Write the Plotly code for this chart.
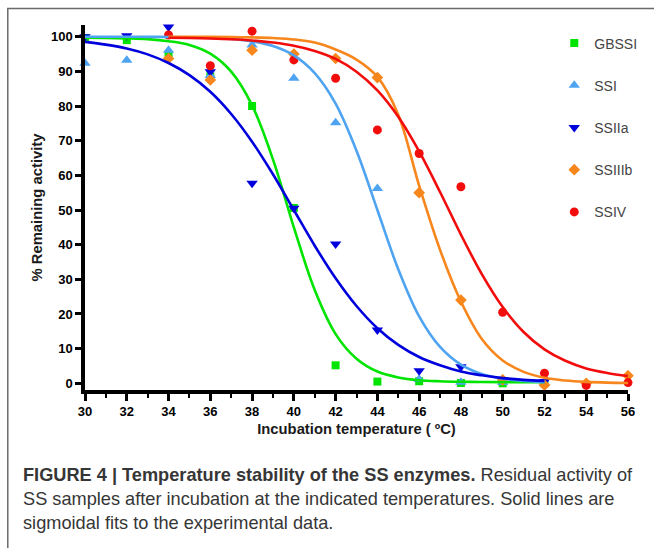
import plotly.graph_objects as go

# ---------------- data ----------------
series_names = ["GBSSI", "SSI", "SSIIa", "SSIIIb", "SSIV"]
colors = ["#00E400", "#4FA4F2", "#0000DD", "#F7861C", "#F20D0D"]
symbols = ["square", "triangle-up", "triangle-down", "diamond", "circle"]
marker_sizes = [8, 10, 10, 9, 9]

# measured points
gbssi_x = [30, 32, 34, 36, 38, 40, 42, 44, 46, 48, 50, 52]
gbssi_y = [99.6, 99.0, 94.6, 88.5, 80.0, 50.6, 5.2, 0.5, 0.6, 0.1, 0.0, 0.0]

ssi_x = [30, 32, 34, 36, 38, 40, 42, 44, 46, 48, 50, 52]
ssi_y = [92.3, 93.2, 96.1, 88.8, 97.6, 88.0, 75.2, 56.2, 1.2, 0.3, 0.2, 0.0]

ssiia_x = [30, 32, 34, 36, 38, 40, 42, 44, 46, 48, 50, 52]
ssiia_y = [100.0, 100.3, 102.8, 89.9, 57.7, 50.5, 40.2, 15.4, 3.6, 4.8, 1.1, 0.5]

ssiiib_x = [34, 36, 38, 40, 42, 44, 46, 48, 50, 52, 54, 56]
ssiiib_y = [93.7, 87.5, 96.1, 95.0, 93.7, 88.2, 55.0, 24.0, 1.0, -0.5, 0.0, 2.2]

ssiv_x = [34, 36, 38, 40, 42, 44, 46, 48, 50, 52, 54, 56]
ssiv_y = [100.5, 91.6, 101.6, 93.3, 88.0, 73.1, 66.3, 56.7, 20.5, 2.9, -0.6, 0.2]

# fitted sigmoid curves (values at each degree)
fit_x_low = [30, 31, 32, 33, 34, 35, 36, 37, 38, 39, 40, 41,
             42, 43, 44, 45, 46, 47, 48, 49, 50, 51, 52]
fit_gbssi = [99.7, 99.6, 99.5, 99.3, 98.7, 97.6, 95.1, 89.9, 80.2, 64.6, 45.0, 26.9,
             14.2, 7.1, 3.4, 1.7, 0.9, 0.6, 0.45, 0.37, 0.33, 0.31, 0.3]
fit_ssi = [100.0, 100.0, 99.98, 99.95, 99.92, 99.84, 99.67, 99.33, 98.65, 97.3, 94.6, 89.5,
           80.7, 67.1, 50.0, 32.9, 19.3, 10.5, 5.4, 2.7, 1.35, 0.67, 0.33]
fit_ssiia = [98.5, 97.7, 96.6, 94.9, 92.4, 88.9, 84.1, 77.7, 69.7, 60.3, 50.0, 39.7,
             30.3, 22.3, 15.9, 11.1, 7.6, 5.2, 3.4, 2.3, 1.5, 1.0, 0.66]

fit_x_high = [34, 35, 36, 37, 38, 39, 40, 41, 42, 43, 44, 45,
              46, 47, 48, 49, 50, 51, 52, 53, 54, 55, 56]
fit_ssiiib = [99.99, 99.97, 99.95, 99.9, 99.8, 99.6, 99.2, 98.3, 96.3, 93.4, 88.4, 77.5,
              57.0, 38.5, 23.6, 12.8, 6.6, 3.3, 1.6, 0.8, 0.4, 0.2, 0.1]
fit_ssiv = [99.68, 99.6, 99.47, 99.26, 98.9, 98.3, 97.4, 95.9, 93.6, 89.9, 84.5, 76.9,
            66.9, 55.2, 42.9, 31.5, 22.0, 14.8, 9.8, 6.5, 4.3, 3.0, 2.1]

y_ticks = [0, 10, 20, 30, 40, 50, 60, 70, 80, 90, 100]
x_ticks = [30, 32, 34, 36, 38, 40, 42, 44, 46, 48, 50, 52, 54, 56]

x_title = "Incubation temperature ( ºC)"
y_title = "% Remaining activity"
caption_lines = [
    "<b>FIGURE 4 | Temperature stability of the SS enzymes.</b> Residual activity of",
    "SS samples after incubation at the indicated temperatures. Solid lines are",
    "sigmoidal fits to the experimental data.",
]

points = [(gbssi_x, gbssi_y), (ssi_x, ssi_y), (ssiia_x, ssiia_y),
          (ssiiib_x, ssiiib_y), (ssiv_x, ssiv_y)]
fits = [(fit_x_low, fit_gbssi), (fit_x_low, fit_ssi), (fit_x_low, fit_ssiia),
        (fit_x_high, fit_ssiiib), (fit_x_high, fit_ssiv)]

# ---------------- figure ----------------
fig = go.Figure()

for i, name in enumerate(series_names):
    px_, py_ = points[i]
    fig.add_trace(go.Scatter(
        x=px_, y=py_, mode="markers", name=name, legendgroup=name,
        marker=dict(symbol=symbols[i], size=marker_sizes[i], color=colors[i],
                    line=dict(width=0)),
        cliponaxis=False,
    ))

for i, name in enumerate(series_names):
    fx, fy = fits[i]
    fig.add_trace(go.Scatter(
        x=fx, y=fy, mode="lines", name=name + " fit", showlegend=False,
        legendgroup=name,
        line=dict(color=colors[i], width=2.6, shape="spline", smoothing=1.0),
        hoverinfo="skip",
    ))

L, R, T, B = 85, 24, 25, 158
W, H = 654, 548
pw, ph = W - L - R, H - T - B


def pxx(x):
    return (x - L) / pw


def pxy(y):
    return (H - B - y) / ph


fig.update_layout(
    width=W, height=H,
    margin=dict(l=L, r=R, t=T, b=B, pad=0),
    paper_bgcolor="white", plot_bgcolor="white",
    font=dict(family="Liberation Sans, Arial, sans-serif", color="#111"),
    showlegend=True,
    legend=dict(
        x=pxx(556), y=pxy(27.5), xanchor="left", yanchor="top",
        font=dict(size=14, color="#444"),
        tracegroupgap=21, bgcolor="rgba(0,0,0,0)",
        itemwidth=30,
    ),
    xaxis=dict(
        range=[30, 56], tickmode="array", tickvals=x_ticks,
        showline=True, linecolor="black", linewidth=3.5,
        ticks="outside", ticklen=7, tickwidth=2.5, tickcolor="black",
        tickfont=dict(size=13, color="black", family="Liberation Sans, Arial"),
        showgrid=False, zeroline=False,
        minor=dict(dtick=1, ticks="outside", ticklen=4, tickwidth=2, tickcolor="black"),
        title=dict(text="<b>" + x_title + "</b>", font=dict(size=14.8, color="#1a1a1a"),
                   standoff=6),
    ),
    yaxis=dict(
        range=[-1.93, 103.37], tickmode="array", tickvals=y_ticks,
        showline=True, linecolor="black", linewidth=3.5,
        ticks="outside", ticklen=6, tickwidth=2.5, tickcolor="black",
        tickfont=dict(size=13, color="black", family="Liberation Sans, Arial"),
        showgrid=False, zeroline=False,
        title=dict(text="<b>" + y_title + "</b>", font=dict(size=14.8, color="#1a1a1a"),
                   standoff=6),
    ),
)

# tick labels bold
fig.update_xaxes(ticktext=["<b>%d</b>" % v for v in x_ticks])
fig.update_yaxes(ticktext=["<b>%d</b>" % v for v in y_ticks])

# outer frame of the figure panel
fig.add_shape(type="rect", xref="paper", yref="paper",
              x0=pxx(7.5), x1=pxx(670), y0=pxy(570), y1=pxy(8.5),
              line=dict(color="#6a6a6a", width=1.5), fillcolor="rgba(0,0,0,0)",
              layer="below")

# caption
cap_y = [475, 499, 523]
for line, yy in zip(caption_lines, cap_y):
    fig.add_annotation(
        text=line, xref="paper", yref="paper", x=pxx(21), y=pxy(yy),
        xanchor="left", yanchor="middle", showarrow=False, align="left",
        font=dict(size=18.2, color="#363636", family="Liberation Sans, Arial"),
    )

fig.write_html("out.html")
